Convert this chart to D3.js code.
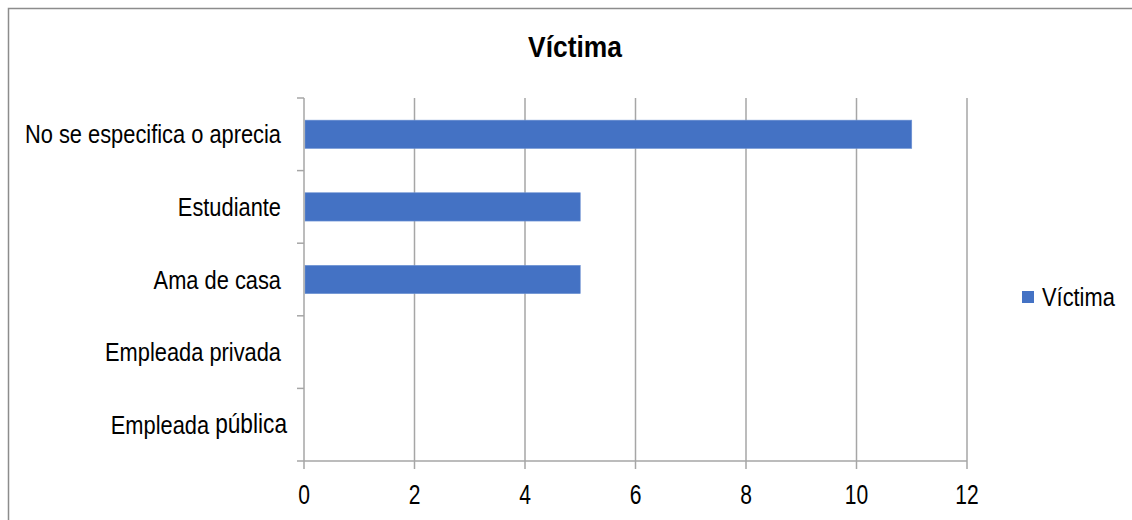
<!DOCTYPE html>
<html>
<head>
<meta charset="utf-8">
<script src="https://cdn.jsdelivr.net/npm/d3@7"></script>
<style>
  html,body{margin:0;padding:0;background:#fff;}
  svg{display:block;}
  text{font-family:"Liberation Sans Narrow","Arial Narrow","Liberation Sans",Arial,sans-serif;fill:#000;}
</style>
</head>
<body>
<svg id="chart" width="1132" height="520"></svg>
<script>
// data
var categories=['No se especifica o aprecia','Estudiante','Ama de casa','Empleada privada','Empleada pública'];
var values=[11,5,5,0,0];
var xTicks=[0,2,4,6,8,10,12];
var seriesName='Víctima';
var chartTitle='Víctima';

var svg=d3.select('#chart');
var W=1132, H=520;
var ml=304, mr=165, mt=98, mb=59;
var grey='#a6a6a6', blue='#4472c4';

// narrow-looking text: no condensed face installed, so squeeze horizontally
function ntext(parent,x0,y0,sx,size,anchor,str){
  return parent.append('text')
    .attr('transform','translate('+x0+','+y0+') scale('+sx+',1)')
    .attr('text-anchor',anchor).attr('font-size',size+'px').text(str);
}

// outer frame (right/bottom edges fall outside the picture)
svg.append('rect').attr('x',8.5).attr('y',8.5).attr('width',W+10).attr('height',H+10)
  .attr('fill','none').attr('stroke','#8c8c8c').attr('stroke-width',1.5);

var x=d3.scaleLinear().domain([0,12]).range([ml,W-mr]);
var y=d3.scaleBand().domain(categories).range([mt,H-mb]).padding(0);

// gridlines
var g=svg.append('g');
xTicks.forEach(function(t){
  if(t===0)return;
  g.append('line').attr('x1',x(t)).attr('x2',x(t)).attr('y1',mt).attr('y2',H-mb+8)
    .attr('stroke',grey).attr('stroke-width',1.5);
});

// bars
var barH=y.bandwidth()*0.39;
categories.forEach(function(c,i){
  if(!values[i])return;
  g.append('rect').attr('x',x(0)+1).attr('y',y(c)+y.bandwidth()/2-barH/2)
    .attr('width',x(values[i])-x(0)-1).attr('height',barH)
    .attr('fill',blue).attr('stroke','#6f93d4').attr('stroke-width',0.6);
});

// x axis line + ticks
g.append('line').attr('x1',x(0)).attr('x2',x(12)).attr('y1',H-mb).attr('y2',H-mb)
  .attr('stroke',grey).attr('stroke-width',1.5);
g.append('line').attr('x1',x(0)).attr('x2',x(0)).attr('y1',H-mb).attr('y2',H-mb+8)
  .attr('stroke',grey).attr('stroke-width',1.5);
xTicks.forEach(function(t){
  ntext(g,x(t),504,0.78,27,'middle',t);
});

// y axis line + ticks at band boundaries
g.append('line').attr('x1',x(0)).attr('x2',x(0)).attr('y1',mt).attr('y2',H-mb)
  .attr('stroke',grey).attr('stroke-width',1.5);
var bounds=categories.map(function(c){return y(c);}).concat([H-mb]);
bounds.forEach(function(b){
  g.append('line').attr('x1',x(0)-7).attr('x2',x(0)).attr('y1',b).attr('y2',b)
    .attr('stroke',grey).attr('stroke-width',1.5);
});
categories.forEach(function(c,i){
  var last=(i===categories.length-1);
  var cy=y(c)+y.bandwidth()/2+9;
  if(!last){
    ntext(g,x(0)-23,cy,0.84,26,'end',c);
  }else{
    // the source label mixes two font sizes
    var parts=c.split(' ');
    var t=ntext(g,x(0)-17,cy,0.84,26,'end','');
    t.append('tspan').text(parts[0]+' ');
    t.append('tspan').attr('font-size','27px').attr('dy',-1).text(parts[1]);
  }
});

// title
ntext(svg,575,57,0.88,30,'middle',chartTitle).attr('font-weight','bold');

// legend
svg.append('rect').attr('x',1022).attr('y',291).attr('width',12).attr('height',12).attr('fill',blue);
ntext(svg,1042,306,0.84,26,'start',seriesName);
</script>
</body>
</html>
